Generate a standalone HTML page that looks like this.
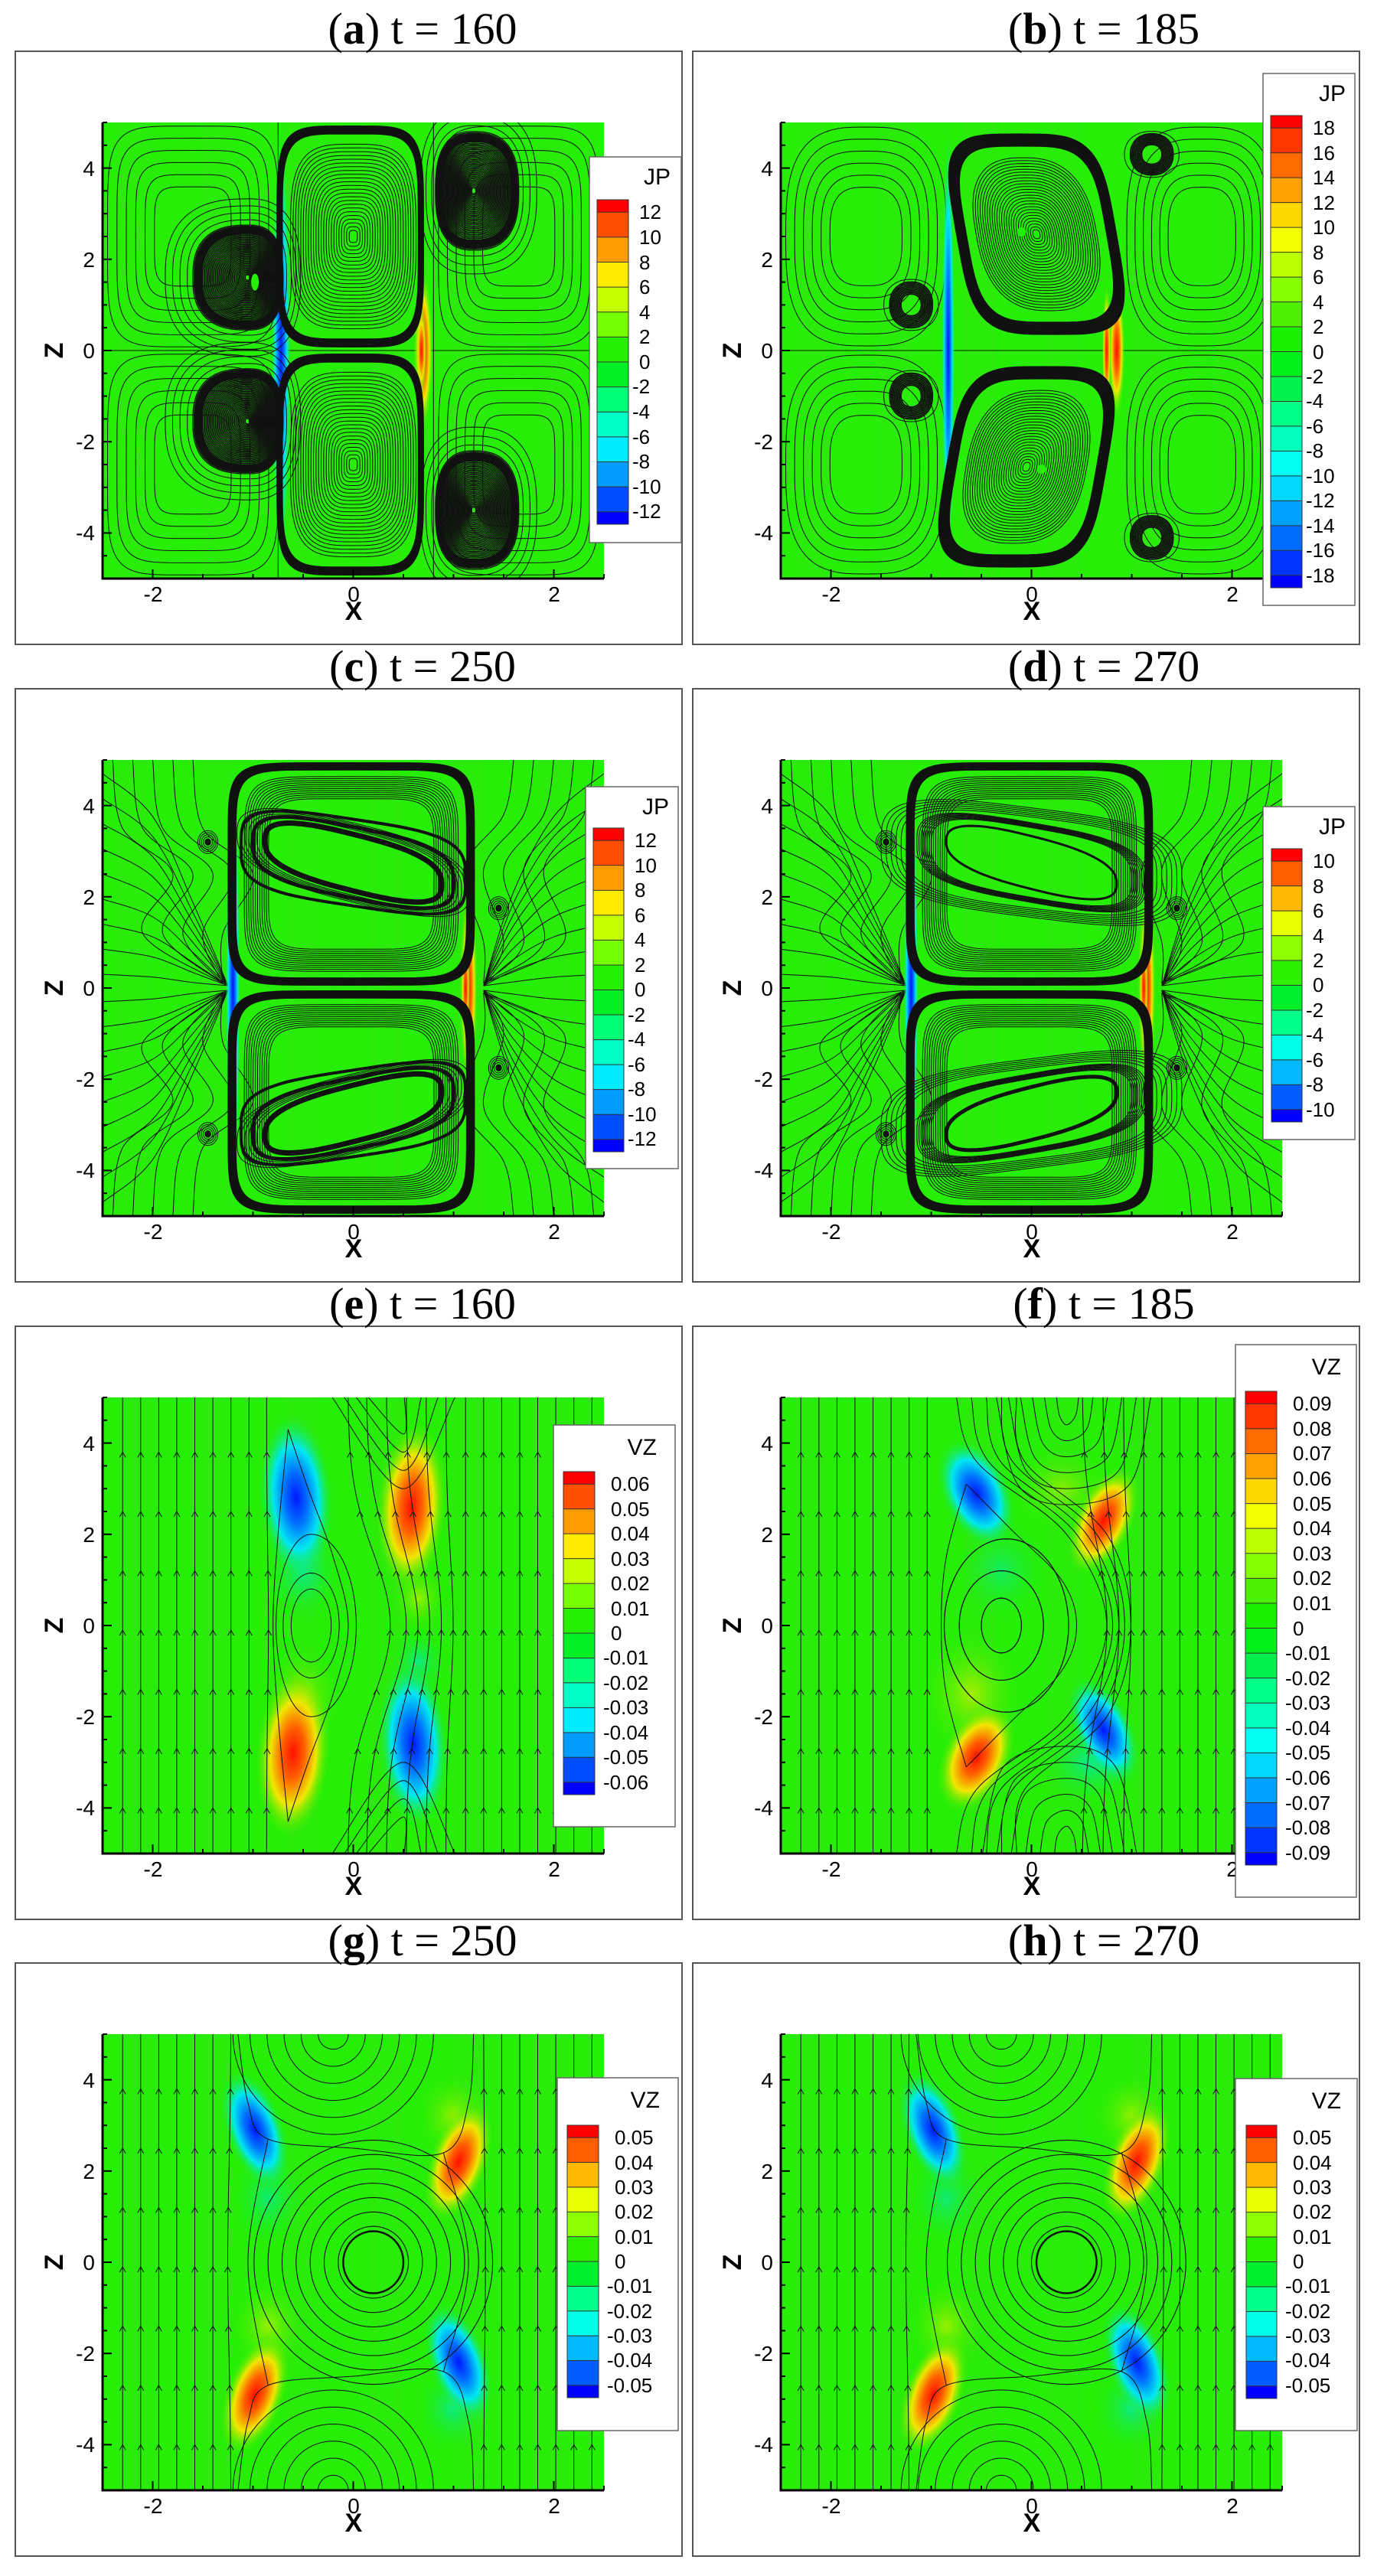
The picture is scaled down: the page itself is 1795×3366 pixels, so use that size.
<!DOCTYPE html>
<html><head><meta charset="utf-8"><style>
html,body{margin:0;padding:0;background:#fff}
svg{display:block}
.t{font-family:"Liberation Serif",serif;font-size:58px;fill:#000}
.k{font-family:"Liberation Sans",sans-serif;font-size:28px;fill:#000}
.l{font-family:"Liberation Sans",sans-serif;font-size:26px;fill:#000}
.ax{font-family:"Liberation Sans",sans-serif;font-size:34px;font-weight:bold;fill:#000}
</style></head><body>
<svg id="s" width="1795" height="3366" viewBox="0 0 1795 3366" xmlns="http://www.w3.org/2000/svg">
<defs>
<radialGradient id="gB"><stop offset="0" stop-color="#0018ff"/><stop offset="0.3" stop-color="#0070ff"/><stop offset="0.6" stop-color="#00e8f0"/><stop offset="1" stop-color="#26ee06" stop-opacity="0"/></radialGradient>
<radialGradient id="gR"><stop offset="0" stop-color="#ff1000"/><stop offset="0.3" stop-color="#ff6000"/><stop offset="0.6" stop-color="#f0e800"/><stop offset="1" stop-color="#26ee06" stop-opacity="0"/></radialGradient>
<radialGradient id="gY"><stop offset="0" stop-color="#c8f000"/><stop offset="1" stop-color="#26ee06" stop-opacity="0"/></radialGradient>
<radialGradient id="gC"><stop offset="0" stop-color="#00e8c0"/><stop offset="1" stop-color="#26ee06" stop-opacity="0"/></radialGradient>
</defs>
<rect width="1795" height="3366" fill="#fff"/>
<g id="content"></g>
<g fill="none" stroke="#555" stroke-width="2">
<rect x="20" y="67" width="871" height="775"/><rect x="905" y="67" width="871" height="775"/>
<rect x="20" y="900" width="871" height="775"/><rect x="905" y="900" width="871" height="775"/>
<rect x="20" y="1733" width="871" height="775"/><rect x="905" y="1733" width="871" height="775"/>
<rect x="20" y="2565" width="871" height="775"/><rect x="905" y="2565" width="871" height="775"/>
</g>
<g class="t" text-anchor="middle">
<text x="552" y="57">(<tspan font-weight="bold">a</tspan>) t = 160</text>
<text x="1442" y="57">(<tspan font-weight="bold">b</tspan>) t = 185</text>
<text x="552" y="890">(<tspan font-weight="bold">c</tspan>) t = 250</text>
<text x="1442" y="890">(<tspan font-weight="bold">d</tspan>) t = 270</text>
<text x="552" y="1723">(<tspan font-weight="bold">e</tspan>) t = 160</text>
<text x="1442" y="1723">(<tspan font-weight="bold">f</tspan>) t = 185</text>
<text x="552" y="2555">(<tspan font-weight="bold">g</tspan>) t = 250</text>
<text x="1442" y="2555">(<tspan font-weight="bold">h</tspan>) t = 270</text>
</g>
<g class="k" text-anchor="middle">
<text x="200" y="786">-2</text><text x="462" y="786">0</text><text x="724" y="786">2</text>
<text x="1086" y="786">-2</text><text x="1348" y="786">0</text><text x="1610" y="786">2</text>
<text x="200" y="1619">-2</text><text x="462" y="1619">0</text><text x="724" y="1619">2</text>
<text x="1086" y="1619">-2</text><text x="1348" y="1619">0</text><text x="1610" y="1619">2</text>
<text x="200" y="2452">-2</text><text x="462" y="2452">0</text><text x="724" y="2452">2</text>
<text x="1086" y="2452">-2</text><text x="1348" y="2452">0</text><text x="1610" y="2452">2</text>
<text x="200" y="3284">-2</text><text x="462" y="3284">0</text><text x="724" y="3284">2</text>
<text x="1086" y="3284">-2</text><text x="1348" y="3284">0</text><text x="1610" y="3284">2</text>
</g>
<g class="ax" text-anchor="middle">
<text x="462" y="810">X</text><text x="1348" y="810">X</text>
<text x="462" y="1643">X</text><text x="1348" y="1643">X</text>
<text x="462" y="2476">X</text><text x="1348" y="2476">X</text>
<text x="462" y="3308">X</text><text x="1348" y="3308">X</text>
<text transform="translate(82,458) rotate(-90)">Z</text><text transform="translate(968,458) rotate(-90)">Z</text>
<text transform="translate(82,1291) rotate(-90)">Z</text><text transform="translate(968,1291) rotate(-90)">Z</text>
<text transform="translate(82,2124) rotate(-90)">Z</text><text transform="translate(968,2124) rotate(-90)">Z</text>
<text transform="translate(82,2956) rotate(-90)">Z</text><text transform="translate(968,2956) rotate(-90)">Z</text>
</g>
<g class="k" text-anchor="end">
<text x="124" y="230">4</text><text x="124" y="349">2</text><text x="124" y="468">0</text><text x="124" y="587">-2</text><text x="124" y="706">-4</text>
<text x="1010" y="230">4</text><text x="1010" y="349">2</text><text x="1010" y="468">0</text><text x="1010" y="587">-2</text><text x="1010" y="706">-4</text>
<text x="124" y="1063">4</text><text x="124" y="1182">2</text><text x="124" y="1301">0</text><text x="124" y="1420">-2</text><text x="124" y="1539">-4</text>
<text x="1010" y="1063">4</text><text x="1010" y="1182">2</text><text x="1010" y="1301">0</text><text x="1010" y="1420">-2</text><text x="1010" y="1539">-4</text>
<text x="124" y="1896">4</text><text x="124" y="2015">2</text><text x="124" y="2134">0</text><text x="124" y="2253">-2</text><text x="124" y="2372">-4</text>
<text x="1010" y="1896">4</text><text x="1010" y="2015">2</text><text x="1010" y="2134">0</text><text x="1010" y="2253">-2</text><text x="1010" y="2372">-4</text>
<text x="124" y="2728">4</text><text x="124" y="2847">2</text><text x="124" y="2966">0</text><text x="124" y="3085">-2</text><text x="124" y="3204">-4</text>
<text x="1010" y="2728">4</text><text x="1010" y="2847">2</text><text x="1010" y="2966">0</text><text x="1010" y="3085">-2</text><text x="1010" y="3204">-4</text>
</g>
<g fill="#fff" stroke="#666" stroke-width="1.5">
<rect x="770" y="205" width="120" height="504"/>
<rect x="1650" y="96" width="120" height="695"/>
<rect x="765" y="1028" width="121" height="499"/>
<rect x="1650" y="1054" width="120" height="435"/>
<rect x="723" y="1862" width="159" height="525"/>
<rect x="1614" y="1757" width="158" height="722"/>
<rect x="728" y="2715" width="158" height="461"/>
<rect x="1614" y="2716" width="159" height="460"/>
</g>
<g id="bars"></g>
<g class="ax" style="font-size:30px;font-weight:normal" text-anchor="end">
<text x="876" y="241">JP</text><text x="1758" y="132">JP</text>
<text x="874" y="1064">JP</text><text x="1758" y="1090">JP</text>
<text x="858" y="1901">VZ</text><text x="1752" y="1796">VZ</text>
<text x="862" y="2754">VZ</text><text x="1752" y="2755">VZ</text>
</g>
<g class="l">
<text x="835" y="286">12</text><text x="835" y="319">10</text><text x="835" y="352">8</text><text x="835" y="384">6</text><text x="835" y="417">4</text><text x="835" y="449">2</text><text x="835" y="482">0</text><text x="826" y="514">-2</text><text x="826" y="547">-4</text><text x="826" y="580">-6</text><text x="826" y="612">-8</text><text x="826" y="645">-10</text><text x="826" y="677">-12</text>
<text x="1715" y="176">18</text><text x="1715" y="209">16</text><text x="1715" y="241">14</text><text x="1715" y="274">12</text><text x="1715" y="306">10</text><text x="1715" y="339">8</text><text x="1715" y="371">6</text><text x="1715" y="404">4</text><text x="1715" y="436">2</text><text x="1715" y="469">0</text><text x="1706" y="501">-2</text><text x="1706" y="533">-4</text><text x="1706" y="566">-6</text><text x="1706" y="598">-8</text><text x="1706" y="631">-10</text><text x="1706" y="663">-12</text><text x="1706" y="696">-14</text><text x="1706" y="728">-16</text><text x="1706" y="761">-18</text>
<text x="829" y="1107">12</text><text x="829" y="1140">10</text><text x="829" y="1172">8</text><text x="829" y="1205">6</text><text x="829" y="1237">4</text><text x="829" y="1270">2</text><text x="829" y="1302">0</text><text x="820" y="1335">-2</text><text x="820" y="1367">-4</text><text x="820" y="1400">-6</text><text x="820" y="1432">-8</text><text x="820" y="1465">-10</text><text x="820" y="1497">-12</text>
<text x="1715" y="1134">10</text><text x="1715" y="1167">8</text><text x="1715" y="1199">6</text><text x="1715" y="1232">4</text><text x="1715" y="1264">2</text><text x="1715" y="1296">0</text><text x="1706" y="1329">-2</text><text x="1706" y="1361">-4</text><text x="1706" y="1394">-6</text><text x="1706" y="1426">-8</text><text x="1706" y="1459">-10</text>
<text x="798" y="1948">0.06</text><text x="798" y="1981">0.05</text><text x="798" y="2013">0.04</text><text x="798" y="2046">0.03</text><text x="798" y="2078">0.02</text><text x="798" y="2111">0.01</text><text x="798" y="2143">0</text><text x="788" y="2175">-0.01</text><text x="788" y="2208">-0.02</text><text x="788" y="2240">-0.03</text><text x="788" y="2273">-0.04</text><text x="788" y="2305">-0.05</text><text x="788" y="2338">-0.06</text>
<text x="1689" y="1843">0.09</text><text x="1689" y="1876">0.08</text><text x="1689" y="1908">0.07</text><text x="1689" y="1941">0.06</text><text x="1689" y="1974">0.05</text><text x="1689" y="2006">0.04</text><text x="1689" y="2039">0.03</text><text x="1689" y="2071">0.02</text><text x="1689" y="2104">0.01</text><text x="1689" y="2137">0</text><text x="1679" y="2169">-0.01</text><text x="1679" y="2202">-0.02</text><text x="1679" y="2234">-0.03</text><text x="1679" y="2267">-0.04</text><text x="1679" y="2299">-0.05</text><text x="1679" y="2332">-0.06</text><text x="1679" y="2365">-0.07</text><text x="1679" y="2397">-0.08</text><text x="1679" y="2430">-0.09</text>
<text x="803" y="2802">0.05</text><text x="803" y="2835">0.04</text><text x="803" y="2867">0.03</text><text x="803" y="2899">0.02</text><text x="803" y="2932">0.01</text><text x="803" y="2964">0</text><text x="793" y="2996">-0.01</text><text x="793" y="3029">-0.02</text><text x="793" y="3061">-0.03</text><text x="793" y="3093">-0.04</text><text x="793" y="3126">-0.05</text>
<text x="1689" y="2802">0.05</text><text x="1689" y="2835">0.04</text><text x="1689" y="2867">0.03</text><text x="1689" y="2899">0.02</text><text x="1689" y="2932">0.01</text><text x="1689" y="2964">0</text><text x="1679" y="2996">-0.01</text><text x="1679" y="3029">-0.02</text><text x="1679" y="3061">-0.03</text><text x="1679" y="3093">-0.04</text><text x="1679" y="3126">-0.05</text>
</g>
</svg>
<script>
(function(){
var G='#26ee06';
var out=[],ax=[],bars=[];
function C(x0,y0){return {X:function(x){return x0+(x+2.5)*131},Y:function(z){return y0+(5-z)*59.6},x0:x0,y0:y0};}
function pth(c,pts,close){var s='M';for(var i=0;i<pts.length;i++){s+=(i?'L':'')+c.X(pts[i][0]).toFixed(1)+','+c.Y(pts[i][1]).toFixed(1);}return s+(close?'Z':'');}
function smooth(c,pts){var P=pts.map(function(p){return [c.X(p[0]),c.Y(p[1])];});var s='M'+P[0][0].toFixed(1)+','+P[0][1].toFixed(1);
 for(var i=0;i<P.length-1;i++){var p0=P[i-1]||P[i],p1=P[i],p2=P[i+1],p3=P[i+2]||p2;
  s+='C'+(p1[0]+(p2[0]-p0[0])/6).toFixed(1)+','+(p1[1]+(p2[1]-p0[1])/6).toFixed(1)+' '+(p2[0]-(p3[0]-p1[0])/6).toFixed(1)+','+(p2[1]-(p3[1]-p1[1])/6).toFixed(1)+' '+p2[0].toFixed(1)+','+p2[1].toFixed(1);}
 return s;}
function se(cx,cz,aL,aR,b,p,sh,tl){var pts=[];for(var i=0;i<=96;i++){var t=i/96*Math.PI*2,c=Math.cos(t),s=Math.sin(t);var u=(c<0?-1:1)*Math.pow(Math.abs(c),2/p),v=(s<0?-1:1)*Math.pow(Math.abs(s),2/p);var x=cx+(c<0?aL:aR)*u,z=cz+b*v;x+=(sh||0)*(z-cz);z+=(tl||0)*(x-cx);pts.push([x,z]);}return pts;}
function ring(c,cx,cz,aL,aR,b,p,sh,tl,w,col){out.push('<path d="'+pth(c,se(cx,cz,aL,aR,b,p,sh,tl),1)+'" fill="none" stroke="'+(col||'#111')+'" stroke-width="'+(w||1)+'"/>');}
function rings(c,cx,cz,aL,aR,b,p,sh,tl,s0,s1,n,w){for(var i=0;i<n;i++){var s=s0+(s1-s0)*i/(n-1);ring(c,cx,cz,aL*s,aR*s,b*s,p,sh,tl,w);}}
function line(c,pts,w){out.push('<path d="'+pth(c,pts,0)+'" fill="none" stroke="#111" stroke-width="'+(w||1)+'"/>');}
function sline(c,pts,w){out.push('<path d="'+smooth(c,pts)+'" fill="none" stroke="#111" stroke-width="'+(w||1)+'"/>');}
function blob(c,x,z,rx,rz,rot,g,op){out.push('<ellipse cx="'+c.X(x)+'" cy="'+c.Y(z)+'" rx="'+rx*131+'" ry="'+rz*59.6+'" transform="rotate('+rot+' '+c.X(x)+' '+c.Y(z)+')" fill="url(#'+g+')" opacity="'+(op||1)+'"/>');}
function begin(c,id){out.push('<clipPath id="'+id+'"><rect x="'+c.x0+'" y="'+c.y0+'" width="655" height="596"/></clipPath><g clip-path="url(#'+id+')"><rect x="'+c.x0+'" y="'+c.y0+'" width="655" height="596" fill="'+G+'"/>');
 for(var i=0;i<6;i++){out.push('<rect x="'+(c.x0+i*110+20)+'" y="'+c.y0+'" width="40" height="596" fill="#30e810" opacity="0.5"/>');}}
function end(c){out.push('</g>');
 var a='';a+='<path d="M'+c.x0+','+c.y0+'V'+(c.y0+596)+'H'+(c.x0+655)+'" fill="none" stroke="#000" stroke-width="3"/>';
 for(var x=-2.5;x<=2.51;x+=0.5){var X=c.X(x),L=(Math.abs(x%2)<0.01)?12:6;a+='<path d="M'+X+','+(c.y0+596)+'v-'+L+'" stroke="#000" stroke-width="2"/>';}
 for(var z=-5;z<=5.01;z+=0.5){var Y=c.Y(z),L=(Math.abs(z%2)<0.01)?12:6;a+='<path d="M'+c.x0+','+Y+'h'+L+'" stroke="#000" stroke-width="2"/>';}
 ax.push(a);}
function strip(c,x,z0,z1,w,g){out.push('<rect x="'+(c.X(x)-w/2)+'" y="'+c.Y(z1)+'" width="'+w+'" height="'+(c.Y(z0)-c.Y(z1))+'" fill="url(#'+g+')"/>');}
function bar(x0,x1,T,B,nL){var h=(B-T)/nL,N=nL+1;for(var i=0;i<N;i++){var y=i==0?T:T+h/2+(i-1)*h,y2=i==N-1?B:T+h/2+i*h;var hue=240*i/(N-1);bars.push('<rect x="'+x0+'" y="'+y+'" width="'+(x1-x0)+'" height="'+(y2-y+0.5)+'" fill="hsl('+hue+',100%,'+(hue>100&&hue<140?47:50)+'%)"/>');if(i>0)bars.push('<path d="M'+x0+','+y+'H'+x1+'" stroke="#333" stroke-width="1"/>');}
 bars.push('<rect x="'+x0+'" y="'+T+'" width="'+(x1-x0)+'" height="'+(B-T)+'" fill="none" stroke="#333" stroke-width="1"/>');}
function bgCells(c,cells,p){cells.forEach(function(k){rings(c,k[0],k[1],k[2],k[2],k[3],p,0,0,0.45,1,6,1);});}

/* a */
var c=C(134,160);begin(c,'ca');
bgCells(c,[[-1.6,2.5,0.85,2.42],[-1.6,-2.5,0.85,2.42],[1.65,2.5,0.8,2.42],[1.65,-2.5,0.8,2.42]],5);
line(c,[[-2.5,0],[2.5,0]]);line(c,[[-0.75,-5],[-0.75,5]]);line(c,[[0.8,-5],[0.8,5]]);
strip(c,-0.72,-5,5,26,'gB');strip(c,0.7,-1.8,1.8,26,'gR');strip(c,0.68,-1,1,14,'gR');
[2.5,-2.5].forEach(function(cz){rings(c,-0.02,cz,0.74,0.72,2.42,5,0,0,0.93,1,10,1.6);rings(c,0,cz,0.68,0.68,2.2,3.5,0,0,0.06,0.92,24,1);});
[[-1.05,1.6],[-1.05,-1.55]].forEach(function(k){rings(c,k[0],k[1],0.55,0.35,1.15,2.6,0,0,0.05,1,45,1.3);rings(c,k[0],k[1],0.55,0.35,1.15,2.6,0,0,0.85,0.95,4,3);rings(c,k[0],k[1],0.55,0.35,1.15,2.6,0,0,1.1,1.5,4,1);});
[[1.2,3.5],[1.2,-3.5]].forEach(function(k){rings(c,k[0],k[1],0.38,0.45,1.3,2.6,0,0,0.05,1,45,1.3);rings(c,k[0],k[1],0.38,0.45,1.3,2.6,0,0,0.85,0.95,4,3);rings(c,k[0],k[1],0.38,0.45,1.3,2.6,0,0,1.1,1.4,3,1);});
out.push('<ellipse cx="'+c.X(-0.98)+'" cy="'+c.Y(1.5)+'" rx="5" ry="11" fill="'+G+'"/>');
end(c);bar(780,821,261,685,13);

/* b */
c=C(1020,160);begin(c,'cb');
bgCells(c,[[-1.65,2.5,0.8,2.4],[-1.65,-2.5,0.8,2.4],[1.7,2.5,0.75,2.4],[1.7,-2.5,0.75,2.4]],3);
line(c,[[-2.5,0],[2.5,0]]);
strip(c,-0.83,-5,5,18,'gB');strip(c,0.85,-1.5,1.5,22,'gR');strip(c,0.75,-1.5,1.5,12,'gR');
rings(c,0.05,2.55,0.78,0.78,2.15,4,-0.08,0,0.9,1.02,12,1.8);rings(c,0.05,2.55,0.7,0.7,1.95,2.6,-0.08,0,0.05,0.86,26,1);
rings(c,-0.05,-2.55,0.78,0.78,2.15,4,0.08,0,0.9,1.02,12,1.8);rings(c,-0.05,-2.55,0.7,0.7,1.95,2.6,0.08,0,0.05,0.86,26,1);
[[-1.2,1.0,0.17,0.4],[-1.2,-1.0,0.17,0.4],[1.2,4.3,0.17,0.36],[1.2,-4.1,0.17,0.38]].forEach(function(k){rings(c,k[0],k[1],k[2],k[2],k[3],2.2,0,0,0.6,1.25,8,2);ring(c,k[0],k[1],k[2]*1.6,k[2]*1.6,k[3]*1.4,2.2,0,0,1);});
out.push('<circle cx="'+c.X(-0.1)+'" cy="'+c.Y(2.6)+'" r="6" fill="'+G+'"/><circle cx="'+c.X(0.1)+'" cy="'+c.Y(-2.6)+'" r="6" fill="'+G+'"/>');
end(c);bar(1660,1701,151,768,19);

/* c,d */
function cd(c,id,variant){begin(c,id);
 for(var i=0;i<9;i++){var z0=0.3+i*0.55;sline(c,[[-2.5,z0],[-2.0,z0*0.8],[-1.6,z0*0.4],[-1.25,0.05]]);sline(c,[[-2.5,-z0],[-2.0,-z0*0.8],[-1.6,-z0*0.4],[-1.25,-0.05]]);
  sline(c,[[2.5,z0],[2.0,z0*0.8],[1.6,z0*0.45],[1.3,0.05]]);sline(c,[[2.5,-z0],[2.0,-z0*0.8],[1.6,-z0*0.45],[1.3,-0.05]]);}
 for(var j=0;j<5;j++){var xx=-2.4+j*0.2;sline(c,[[xx,5],[xx+0.1,3.5],[xx+0.6,2.5],[xx+0.3,1.2],[-1.3,0.1]]);sline(c,[[xx,-5],[xx+0.1,-3.5],[xx+0.6,-2.5],[xx+0.3,-1.2],[-1.3,-0.1]]);
  var xr=2.4-j*0.2;sline(c,[[xr,5],[xr-0.1,3.8],[xr-0.5,2.6],[xr-0.3,1.0],[1.3,0.1]]);sline(c,[[xr,-5],[xr-0.1,-3.8],[xr-0.5,-2.6],[xr-0.3,-1.0],[1.3,-0.1]]);}
 [[-1.45,3.2],[1.45,1.75],[1.45,-1.75],[-1.45,-3.2]].forEach(function(k){rings(c,k[0],k[1],0.1,0.1,0.25,2,0,0,0.1,1,6,1);out.push('<circle cx="'+c.X(k[0])+'" cy="'+c.Y(k[1])+'" r="4" fill="#111"/>');});
 strip(c,-1.2,-5,5,20,'gB');strip(c,1.15,-2.2,2.2,24,'gR');strip(c,1.12,-1.2,1.2,12,'gR');
 [2.5,-2.5].forEach(function(cz){rings(c,-0.02,cz,1.22,1.22,2.42,7,0,0,0.95,1.0,6,3.5);rings(c,-0.02,cz,1.1,1.1,2.2,6,0,0,0.75,0.97,12,1);});
 var tl=[-0.55,0.55];[2.75,-2.75].forEach(function(cz,ii){
  if(variant==0){ring(c,0,cz,0.88,0.88,0.62,2.8,0,tl[ii],7);ring(c,0,cz,1.0,1.0,0.78,3.2,0,tl[ii]*0.8,5);ring(c,0,cz,1.12,1.12,0.95,3.6,0,tl[ii]*0.6,4);rings(c,0,cz,0.8,0.8,0.6,2.8,0,tl[ii],1.2,1.45,6,1);}
  else{ring(c,0,cz,0.85,0.85,0.58,2.6,0,tl[ii],(ii?5:3));rings(c,0,cz,1.02,1.02,0.78,3.2,0,tl[ii]*0.7,0.98,1.12,8,1.1);rings(c,0,cz,1.0,1.0,0.8,3.4,0,tl[ii]*0.5,1.25,1.5,6,1);}
 });
 end(c);}
cd(C(134,993),'cc',0);bar(775,815,1082,1505,13);
cd(C(1020,993),'cd',1);bar(1661,1701,1109,1466,11);

/* VZ panels */
function vz(c,id,t){begin(c,id);
 t.blobs.forEach(function(b){blob(c,b[0],b[1],b[2],b[3],b[4],b[5],b[6]);});
 var xs=[];for(var x=-2.3;x<=2.4;x+=0.18)xs.push(x);
 xs.forEach(function(x0){var pts=[];for(var z=-5;z<=5.01;z+=0.1){pts.push([x0+t.defl(x0,z),z]);}
  if(!(t.skip&&t.skip(x0))){line(c,pts,1);
  for(var za=-4;za<=4.1;za+=1.3){var X=c.X(x0+t.defl(x0,za)),Y=c.Y(za);out.push('<path d="M'+(X-4)+','+(Y+7)+'L'+X+','+Y+'L'+(X+4)+','+(Y+7)+'" fill="none" stroke="#111" stroke-width="1"/>');}}});
 t.extra(c);end(c);}
// e
vz(C(134,1826),'ce',{blobs:[[-0.5,1.2,0.4,1.2,0,'gC',0.8],[-0.5,-1.6,0.4,1.2,0,'gY',0.8],[0.65,0.6,0.3,0.8,0,'gY',0.7],[0.65,-0.8,0.3,0.8,0,'gC',0.7],[-0.57,2.8,0.38,1.9,-4,'gB'],[-0.6,-2.8,0.38,1.9,4,'gR'],[0.58,2.6,0.36,1.9,4,'gR'],[0.6,-2.6,0.36,1.9,-4,'gB']],
 defl:function(x,z){if(x<-0.9||x>1.0)return 0;var w=Math.max(0,1-Math.abs(x-0.1)/1.0);return 0.45*w*Math.exp(-z*z/5)-0.1*w;},
 skip:function(x){return x>-0.75&&x<-0.1;},
 extra:function(c){ring(c,-0.42,0,0.2,0.2,0.8,2,0,0,1);ring(c,-0.42,0,0.28,0.28,1.15,2,0,0,1);ring(c,-0.42,0,0.35,0.45,2.0,2,0,0,1);
  sline(c,[[-0.65,4.3],[-0.45,3],[-0.2,1.5],[-0.05,0],[-0.2,-1.5],[-0.45,-3],[-0.65,-4.3]]);
  sline(c,[[-0.65,4.3],[-0.75,2],[-0.8,0],[-0.75,-2],[-0.65,-4.3]]);
  for(var i=0;i<4;i++){var r=0.15+i*0.12;sline(c,[[0.3-r,5],[0.5,4.2-i*0.4],[0.3+r*1.4,5]]);sline(c,[[0.3-r,-5],[0.5,-4.2+i*0.4],[0.3+r*1.4,-5]]);}}});
// f
vz(C(1020,1826),'cf',{blobs:[[-0.6,-1.5,0.55,1.5,0,'gY',0.8],[-0.3,1.2,0.5,1.2,0,'gC',0.5],[0.6,-3.0,0.55,1.0,0,'gC',0.8],[0.3,3.0,0.55,1.0,0,'gY',0.6],[-0.55,2.9,0.35,1.3,-25,'gB'],[-0.55,-2.9,0.35,1.3,25,'gR'],[0.72,2.3,0.3,1.3,25,'gR'],[0.72,-2.3,0.3,1.3,-25,'gB']],
 defl:function(x,z){if(x<-1.0||x>1.1)return 0;var w=Math.max(0,1-Math.abs(x-0.05)/1.05);return 0.5*w*Math.exp(-z*z/6)-0.15*w;},
 skip:function(x){return x>-0.9&&x<0.5;},
 extra:function(c){ring(c,-0.3,0,0.2,0.2,0.6,2,0,0,1.3);ring(c,-0.3,0,0.42,0.42,1.2,2,0,0,1.3);ring(c,-0.25,0,0.62,0.62,1.9,2,0,0,1.3);
  sline(c,[[-0.65,3.1],[-0.2,2.1],[0.3,1],[0.45,0],[0.3,-1],[-0.2,-2.1],[-0.65,-3.1]]);sline(c,[[-0.65,3.1],[-0.85,1.5],[-0.9,0],[-0.85,-1.5],[-0.65,-3.1]]);
  for(var i=0;i<6;i++){var r=0.1+i*0.12;sline(c,[[0.35-r,5],[0.35-r*0.7,4.6-i*0.3],[0.35,4.4-i*0.35],[0.35+r*0.9,4.6-i*0.3],[0.35+r*1.2,5]]);sline(c,[[0.35-r*1.2,-5],[0.35-r*0.9,-4.6+i*0.3],[0.35,-4.4+i*0.35],[0.35+r*0.7,-4.6+i*0.3],[0.35+r,-5]]);}
  for(var j=0;j<5;j++){sline(c,[[-0.75+j*0.15,5],[-0.55+j*0.12,3.6],[0.35+j*0.1,2],[0.75+j*0.06,0],[0.35+j*0.1,-2],[-0.55+j*0.12,-3.6],[-0.75+j*0.15,-5]]);}}});
// g,h
function gh(c,id,cx,ox){vz(c,id,{blobs:[[-0.85,-1.4,0.4,1.1,0,'gY',0.7],[-0.85,1.4,0.4,1.1,0,'gC',0.6],[1.0,3.2,0.4,1.0,0,'gY',0.7],[1.0,-3.2,0.4,1.0,0,'gC',0.7],[-0.98,2.9,0.3,1.4,-20,'gB'],[-0.98,-2.9,0.3,1.4,20,'gR'],[1.05,2.2,0.3,1.4,20,'gR'],[1.05,-2.2,0.3,1.4,-20,'gB']],
 defl:function(x,z){if(x<-1.3||x>1.4)return 0;var w=Math.max(0,1-Math.abs(x)/1.4);return (x<0?-1:1)*0.25*w*Math.exp(-z*z/8);},
 skip:function(x){return x>-1.15&&x<1.25;},
 extra:function(c){for(var i=0;i<7;i++){var r=0.35+i*0.14;ring(c,cx,0,r,r,r*2.25,2,0,0,1.1);}
  ring(c,cx,0,0.3,0.3,0.68,2,0,0,2.5);
  for(var k=0;k<6;k++){var r2=0.15+k*0.17;ring(c,ox,5,r2,r2,r2*2.2,2,0,0,1);ring(c,ox,-5,r2,r2,r2*2.2,2,0,0,1);}
  sline(c,[[-1.15,5],[-1.05,3.5],[-0.85,2.7],[0,2.5],[0.9,2.4],[1.15,3.5],[1.2,5]]);sline(c,[[-1.15,-5],[-1.05,-3.5],[-0.85,-2.7],[0,-2.5],[0.9,-2.4],[1.15,-3.5],[1.2,-5]]);
  sline(c,[[-0.85,2.7],[-1.05,0],[-0.85,-2.7]]);sline(c,[[0.9,2.4],[1.15,0],[0.9,-2.4]]);}});}
gh(C(134,2658),'cg',0.2,-0.2);bar(741,782,2777,3133,11);
gh(C(1020,2658),'chh',0.35,-0.3);bar(1628,1668,2777,3134,11);
bar(736,777,1923,2345,13);bar(1627,1668,1818,2437,19);
document.getElementById('content').innerHTML=out.join('')+ax.join('');
document.getElementById('bars').innerHTML=bars.join('');
})();
</script>
</body></html>
